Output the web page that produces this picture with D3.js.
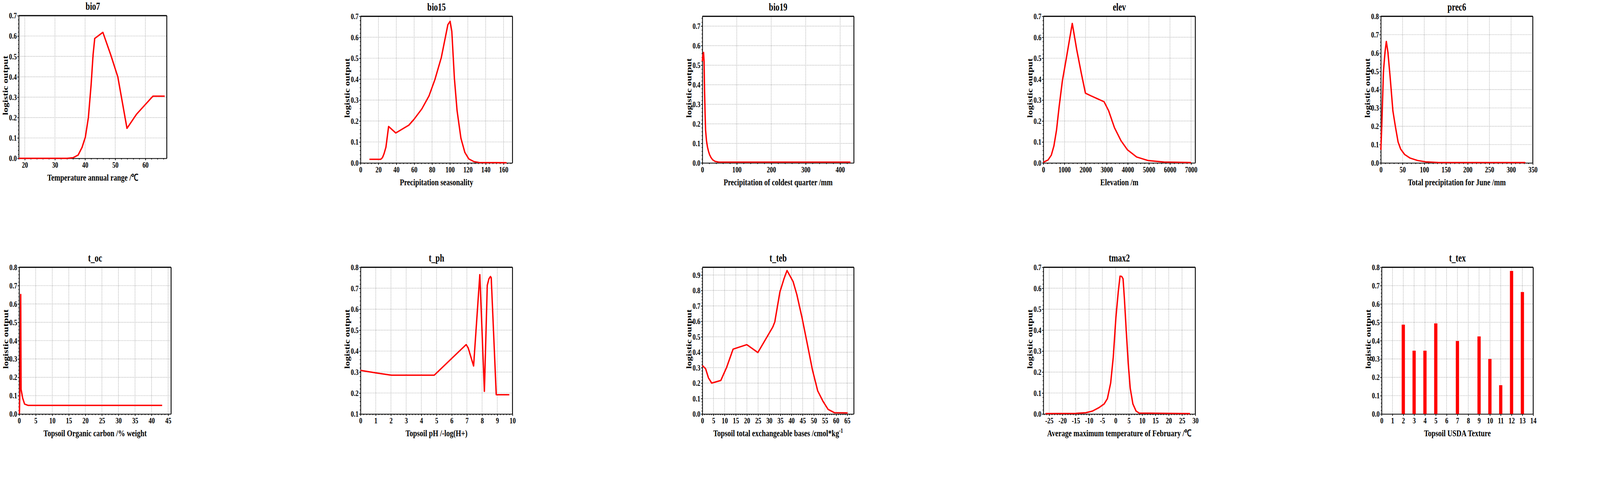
<!DOCTYPE html>
<html>
<head>
<meta charset="utf-8">
<script src="https://cdn.jsdelivr.net/npm/d3@7"></script>
<style>
body { margin: 0; background: #fff; }
svg text { font-family: "Liberation Serif", "Times New Roman", serif; font-weight: bold; fill: #000; }
.tick text { font-size: 21px; }
.grid line { stroke: #a8a8a8; stroke-width: 1.4; stroke-dasharray: 2,2; vector-effect: non-scaling-stroke; }
.axis path, .axis line, .frame { stroke: #000; vector-effect: non-scaling-stroke; }
.axis path { stroke-width: 2; }
.axis line { stroke-width: 1.6; }
.curve { fill: none; stroke: #f00; stroke-width: 3.5; stroke-linejoin: round; vector-effect: non-scaling-stroke; }
</style>
</head>
<body>
<div id="fig"></div>
<script>
// response curves (x = predictor value, y = logistic output)
var bio7X = [18, 34, 36, 37.7, 39.0, 40.1, 41.1, 42.0, 42.65, 43.2, 45.9, 48.5, 50.85, 53.9, 57.1, 62.5, 66.4];
var bio7Y = [0, 0, 0.003, 0.016, 0.054, 0.105, 0.201, 0.361, 0.508, 0.588, 0.618, 0.508, 0.40, 0.147, 0.217, 0.305, 0.305];

var bio15X = [9.9, 22.6, 24.5, 26.3, 28.4, 31.4, 39.4, 48.1, 54.0, 59.8, 68.6, 76.6, 83.2, 90.4, 97.7, 100.2, 102.1, 105.0, 108.0, 112.3, 116.7, 121.1, 126.9, 132.7, 163.4];
var bio15Y = [0.017, 0.017, 0.025, 0.044, 0.075, 0.174, 0.143, 0.165, 0.180, 0.208, 0.258, 0.320, 0.398, 0.504, 0.660, 0.676, 0.628, 0.404, 0.249, 0.118, 0.050, 0.019, 0.006, 0.002, 0.001];

var bio19X = [0, 1.5, 3.5, 5.0, 6.4, 8, 9.4, 12.1, 15, 17.8, 21, 25.3, 30, 36.6, 48, 430];
var bio19Y = [0.52, 0.55, 0.565, 0.52, 0.37, 0.25, 0.167, 0.113, 0.08, 0.06, 0.042, 0.027, 0.016, 0.008, 0.004, 0.004];

var elevX = [0, 222, 377, 500, 623, 747, 901, 1086, 1370, 1580, 1796, 1994, 2259, 2877, 3093, 3370, 3679, 3988, 4420, 4975, 5716, 7000];
var elevY = [0.003, 0.014, 0.037, 0.081, 0.156, 0.268, 0.392, 0.498, 0.666, 0.541, 0.429, 0.333, 0.320, 0.292, 0.249, 0.168, 0.106, 0.062, 0.028, 0.011, 0.004, 0.002];

var prec6X = [0, 2.1, 6.0, 9.6, 12.6, 16.2, 21.6, 27.7, 33.7, 39.7, 45.7, 54.7, 66.7, 84.8, 102.8, 132.9, 332.8];
var prec6Y = [0.071, 0.2, 0.5, 0.605, 0.663, 0.605, 0.462, 0.284, 0.195, 0.114, 0.075, 0.046, 0.027, 0.013, 0.006, 0.002, 0.002];

var tocX = [0.08, 0.28, 0.47, 0.59, 1.06, 1.65, 2.64, 43.2];
var tocY = [0.0, 0.169, 0.652, 0.134, 0.087, 0.054, 0.047, 0.047];

var tphX = [0, 1.03, 2.02, 4.85, 6.95, 7.08, 7.44, 7.85, 8.15, 8.34, 8.45, 8.55, 8.6, 8.93, 9.79];
var tphY = [0.308, 0.296, 0.285, 0.285, 0.431, 0.416, 0.329, 0.765, 0.208, 0.714, 0.745, 0.756, 0.75, 0.192, 0.192];

var tebX = [0, 1.46, 2.74, 4.2, 8.28, 10.9, 13.8, 19.95, 24.9, 31.6, 32.5, 34.8, 36.6, 38.0, 40.7, 42.4, 44.75, 47.1, 49.4, 51.75, 54.1, 56.4, 59.3, 65.2];
var tebY = [0.314, 0.293, 0.234, 0.2, 0.217, 0.302, 0.42, 0.449, 0.398, 0.563, 0.596, 0.79, 0.874, 0.929, 0.858, 0.773, 0.622, 0.453, 0.285, 0.15, 0.083, 0.03, 0.008, 0.007];

var tmax2X = [-26.4, -15.1, -11.2, -8.7, -6.3, -4.3, -3.1, -1.86, -0.88, 0.1, 1.0, 1.67, 2.3, 2.8, 3.3, 4.0, 4.75, 5.5, 6.5, 7.7, 8.9, 28.0];
var tmax2Y = [0.002, 0.003, 0.006, 0.014, 0.03, 0.048, 0.073, 0.148, 0.272, 0.459, 0.583, 0.658, 0.656, 0.645, 0.552, 0.397, 0.241, 0.123, 0.048, 0.014, 0.004, 0.002];

// categorical predictor (bars)
var texClasses = [2, 3, 4, 5, 7, 9, 10, 11, 12, 13];
var texValues = [0.487, 0.345, 0.345, 0.494, 0.398, 0.423, 0.30, 0.157, 0.780, 0.665];

// tick labels
var bio7Ticks = [20, 30, 40, 50, 60];
var bio15Ticks = [0, 20, 40, 60, 80, 100, 120, 140, 160];
var bio19Ticks = [0, 100, 200, 300, 400];
var elevTicks = [0, 1000, 2000, 3000, 4000, 5000, 6000, 7000];
var prec6Ticks = [0, 50, 100, 150, 200, 250, 300, 350];
var tocTicks = [0, 5, 10, 15, 20, 25, 30, 35, 40, 45];
var tphTicks = [0, 1, 2, 3, 4, 5, 6, 7, 8, 9, 10];
var tebTicks = [0, 5, 10, 15, 20, 25, 30, 35, 40, 45, 50, 55, 60, 65];
var tmax2Ticks = [-25, -20, -15, -10, -5, 0, 5, 10, 15, 20, 25, 30];
var texTicks = [0, 1, 2, 3, 4, 5, 6, 7, 8, 9, 10, 11, 12, 13, 14];
var yTicks07 = [0, 0.1, 0.2, 0.3, 0.4, 0.5, 0.6, 0.7];
var yTicks08 = [0, 0.1, 0.2, 0.3, 0.4, 0.5, 0.6, 0.7, 0.8];
var yTicksPh = [0.1, 0.2, 0.3, 0.4, 0.5, 0.6, 0.7, 0.8];
var yTicks09 = [0, 0.1, 0.2, 0.3, 0.4, 0.5, 0.6, 0.7, 0.8, 0.9];

var titles = ['bio7', 'bio15', 'bio19', 'elev', 'prec6', 't_oc', 't_ph', 't_teb', 'tmax2', 't_tex'];
var xLabels = ['Temperature annual range /\u2103', 'Precipitation seasonality', 'Precipitation of coldest quarter /mm',
  'Elevation /m', 'Total precipitation for June /mm', 'Topsoil Organic carbon /% weight', 'Topsoil pH /-log(H+)',
  'Topsoil total exchangeable bases /cmol*kg', 'Average maximum temperature of February /\u2103', 'Topsoil USDA Texture'];

// the original figure is squeezed horizontally, so draw wide and squeeze
var S = 0.75;
var W = 4316, H = 1233;

// layout: plot box in screen pixels [left, right, top, bottom]
var panels = [
  {x: bio7X, y: bio7Y, xd: [18, 67.1], xt: bio7Ticks, yd: [0, 0.7], yt: yTicks07, box: [48, 427, 40, 405]},
  {x: bio15X, y: bio15Y, xd: [0, 170], xt: bio15Ticks, yd: [0, 0.7], yt: yTicks07, box: [923, 1312, 41.7, 416.7]},
  {x: bio19X, y: bio19Y, xd: [0, 440], xt: bio19Ticks, yd: [0, 0.75], yt: yTicks07, box: [1798, 2186, 41.7, 416.7]},
  {x: elevX, y: elevY, xd: [0, 7200], xt: elevTicks, yd: [0, 0.7], yt: yTicks07, box: [2671, 3060, 41.7, 416.7]},
  {x: prec6X, y: prec6Y, xd: [0, 350], xt: prec6Ticks, yd: [0, 0.8], yt: yTicks08, box: [3535, 3924, 41.7, 416.7]},
  {x: tocX, y: tocY, xd: [0, 45.9], xt: tocTicks, yd: [0, 0.8], yt: yTicks08, box: [49, 438, 683.7, 1059]},
  {x: tphX, y: tphY, xd: [0, 10], xt: tphTicks, yd: [0.1, 0.8], yt: yTicksPh, box: [923, 1312, 683.7, 1059]},
  {x: tebX, y: tebY, xd: [0, 68], xt: tebTicks, yd: [0, 0.95], yt: yTicks09, box: [1798, 2186, 683.7, 1059], sup: true},
  {x: tmax2X, y: tmax2Y, xd: [-27.2, 30], xt: tmax2Ticks, yd: [0, 0.7], yt: yTicks07, box: [2671, 3060, 683.7, 1059]},
  {bars: true, xd: [0, 14], xt: texTicks, yd: [0, 0.8], yt: yTicks08, box: [3537, 3925, 683.7, 1059], noMinor: true}
];

var svg = d3.select('#fig').append('svg')
  .attr('width', W).attr('height', H)
  .attr('viewBox', '0 0 ' + (W / S) + ' ' + H)
  .attr('preserveAspectRatio', 'none');

panels.forEach(function(p, i) {
  var L = p.box[0] / S, R = p.box[1] / S, T = p.box[2], B = p.box[3];
  var x = d3.scaleLinear().domain(p.xd).range([L, R]);
  var y = d3.scaleLinear().domain(p.yd).range([B, T]);
  var g = svg.append('g');

  // dotted grid at the major ticks
  var grid = g.append('g').attr('class', 'grid');
  grid.selectAll('line.gx').data(p.xt.filter(function(d) { return x(d) > L + 1 && x(d) < R - 1; }))
    .join('line').attr('class', 'gx')
    .attr('x1', function(d) { return x(d); }).attr('x2', function(d) { return x(d); })
    .attr('y1', T).attr('y2', B);
  grid.selectAll('line.gy').data(p.yt.filter(function(d) { return y(d) < B - 1 && y(d) > T + 1; }))
    .join('line').attr('class', 'gy')
    .attr('x1', L).attr('x2', R)
    .attr('y1', function(d) { return y(d); }).attr('y2', function(d) { return y(d); });

  // minor ticks: 5 per major on x, 5 per 0.1 on y
  var xStep = (p.xt[1] - p.xt[0]) / 5;
  var xMinor = p.noMinor ? [] : d3.range(Math.ceil(p.xd[0] / xStep) * xStep, p.xd[1], xStep);
  var yMinor = d3.range(p.yd[0], p.yd[1], 0.02);
  g.append('g').attr('class', 'axis').attr('transform', 'translate(0,' + B + ')')
    .call(d3.axisBottom(x).tickValues(xMinor).tickSize(3).tickSizeOuter(0).tickFormat(''))
    .select('.domain').remove();
  g.append('g').attr('class', 'axis').attr('transform', 'translate(' + L + ',0)')
    .call(d3.axisLeft(y).tickValues(yMinor).tickSize(2.5).tickSizeOuter(0).tickFormat(''))
    .select('.domain').remove();

  // main axes
  g.append('g').attr('class', 'axis').attr('transform', 'translate(0,' + B + ')')
    .call(d3.axisBottom(x).tickValues(p.xt).tickSize(5).tickSizeOuter(0).tickPadding(4)
      .tickFormat(function(d) { return String(d); }));
  g.append('g').attr('class', 'axis').attr('transform', 'translate(' + L + ',0)')
    .call(d3.axisLeft(y).tickValues(p.yt).tickSize(5).tickSizeOuter(0).tickPadding(2)
      .tickFormat(d3.format('.1f')));
  g.selectAll('.axis').attr('font-family', null).attr('font-size', null);

  // top and right frame
  g.append('line').attr('class', 'frame').attr('x1', L).attr('x2', R).attr('y1', T).attr('y2', T).attr('stroke-width', 3);
  g.append('line').attr('class', 'frame').attr('x1', R).attr('x2', R).attr('y1', T).attr('y2', B).attr('stroke-width', 2.2);

  // data
  if (p.bars) {
    var bw = 0.3;
    g.selectAll('rect.bar').data(texClasses).join('rect').attr('class', 'bar')
      .attr('x', function(d) { return x(d - bw / 2); })
      .attr('width', function(d) { return x(d + bw / 2) - x(d - bw / 2); })
      .attr('y', function(d, k) { return y(texValues[k]); })
      .attr('height', function(d, k) { return B - y(texValues[k]); })
      .attr('fill', '#f00');
  } else {
    var pts = p.x.map(function(v, k) { return [v, p.y[k]]; });
    g.append('path').attr('class', 'curve').datum(pts)
      .attr('d', d3.line().x(function(d) { return x(d[0]); }).y(function(d) { return y(d[1]); }));
  }

  // texts
  g.append('text').attr('x', (L + R) / 2).attr('y', T - 15)
    .attr('text-anchor', 'middle').style('font-size', '27px').text(titles[i]);
  var xl = g.append('text').attr('x', (L + R) / 2).attr('y', B + 57)
    .attr('text-anchor', 'middle').style('font-size', '24px').text(xLabels[i]);
  if (p.sup) xl.append('tspan').attr('dy', -9).style('font-size', '16px').text('-1');
  g.append('text')
    .attr('transform', 'translate(' + (L - 34 / S) + ',' + ((T + B) / 2 - 4) + ') rotate(-90)')
    .attr('text-anchor', 'middle').attr('dominant-baseline', 'central')
    .style('font-size', '25px').text('logistic output');
});
</script>
</body>
</html>
